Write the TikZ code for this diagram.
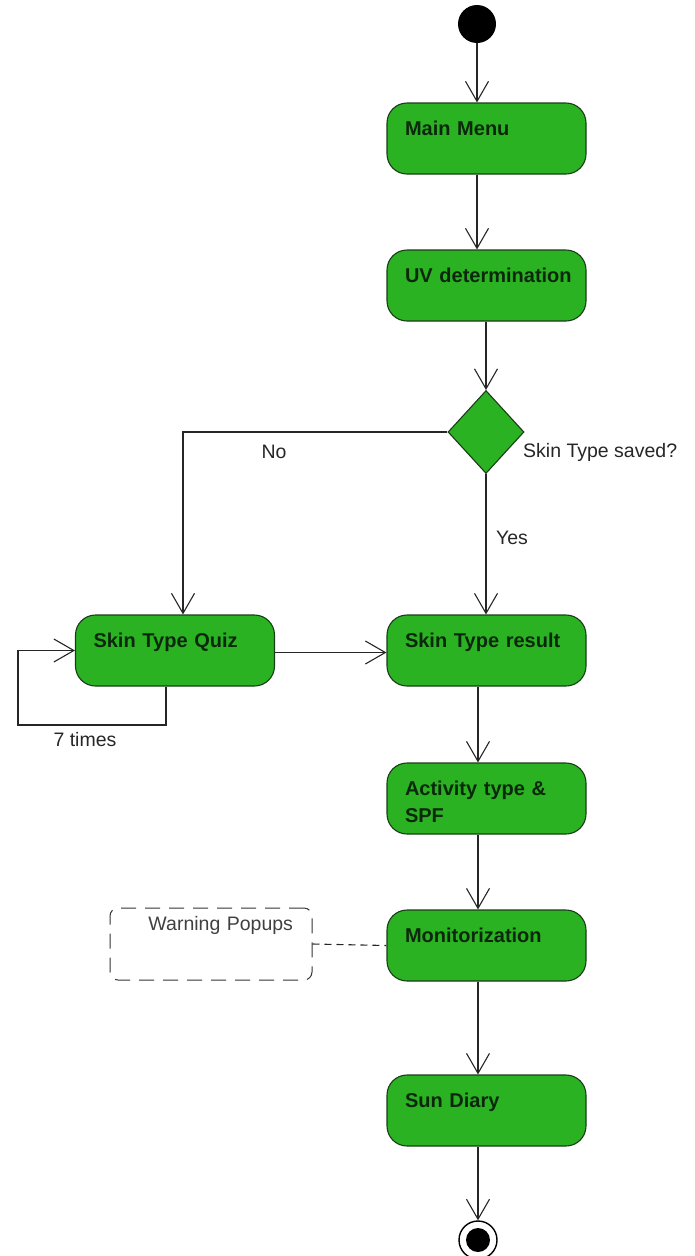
\documentclass[tikz,border=0pt]{standalone}
\usepackage{fontspec}
\setmainfont{Liberation Sans}
\usetikzlibrary{arrows.meta,shapes.geometric}

\definecolor{actgreen}{RGB}{43,178,34}
\definecolor{actline}{RGB}{25,60,25}
\definecolor{acttext}{RGB}{12,40,12}

\tikzset{
    act/.style={draw=actline, fill=actgreen, line width=1.1pt, rounded corners=20pt,
        minimum width=199pt, minimum height=71pt, text width=163pt, align=left,
        inner xsep=18pt, inner ysep=8pt, text height=24pt, text depth=31pt,
        text=acttext, font=\fontsize{20}{27}\selectfont\bfseries},
    decision/.style={diamond, draw=actline, fill=actgreen, line width=1.1pt,
        minimum width=76pt, minimum height=83pt, inner sep=0pt},
    note/.style={draw=black!80, line width=1pt, dash pattern=on 15pt off 9pt, rounded corners=8pt,
        minimum width=202pt, minimum height=72pt, text width=164pt, align=right,
        inner xsep=19pt, inner ysep=0pt, text height=22pt, text depth=50pt,
        text=black!75, font=\fontsize{19.5}{23}\selectfont},
    flow/.style={-{Straight Barb[length=20pt,width=23pt]}, line width=1.1pt, black!85},
    assoc/.style={line width=1.1pt, black!85, dash pattern=on 7pt off 5pt},
    lbl/.style={font=\fontsize{19.5}{23}\selectfont, text=black!85, inner sep=0pt},
}

\begin{document}
\begin{tikzpicture}[x=1pt, y=-1pt]
    \useasboundingbox (0,0) rectangle (695,1256);

    % Start and end
    \node[circle, fill=black, minimum size=38pt, inner sep=0pt] (start) at (477,24) {};
    \node[circle, draw=black, line width=1.4pt, minimum size=38pt, inner sep=0pt] (end) at (478,1240) {};
    \node[circle, fill=black, minimum size=24pt, inner sep=0pt] (endin) at (end) {};

    % Activities
    \node[act] (mm) at (486.5,138.5) {Main Menu};
    \node[act] (uv) at (486.5,285.5) {\mbox{UV determination}};
    \node[decision] (dec) at (486,432) {};
    \node[act] (quiz) at (175,650.5) {Skin Type Quiz};
    \node[act] (result) at (486.5,650.5) {Skin Type result};
    \node[act] (spf) at (486.5,798.5) {Activity type \&\\SPF};
    \node[act] (mon) at (486.5,945.5) {Monitorization};
    \node[act] (diary) at (486.5,1110.5) {Sun Diary};
    \node[note] (warn) at (211,944) {Warning Popups};
    \coordinate (loop) at (18,725);

    % Labels
    \node[lbl] (no) at (274,452) {No};
    \node[lbl] (yes) at (512,538) {Yes};
    \node[lbl, anchor=west] (saved) at (523,452) {Skin Type saved?};
    \node[lbl] (times) at (85,740) {7 times};

    % Flows
    \draw[flow] (start) -- (start |- mm.north);
    \draw[flow] (mm.south -| start) -- (uv.north -| start);
    \draw[flow] (uv.south -| dec) -- (dec.north);
    \draw[flow] (dec.west) -| ([xshift=8pt]quiz.north);
    \draw[flow] (dec.south) -- (result.north -| dec);
    \draw[flow] ([yshift=-2pt]quiz.east) -- ([yshift=-2pt]result.west);
    \draw[flow] ([xshift=-9pt]quiz.south) |- (loop) |- (quiz.west);
    \draw[flow] (result.south -| end) -- (spf.north -| end);
    \draw[flow] (spf.south -| end) -- (mon.north -| end);
    \draw[flow] (mon.south -| end) -- (diary.north -| end);
    \draw[flow] (diary.south -| end) -- (end.north);
    \draw[assoc] (warn.east) -- (mon.west);
\end{tikzpicture}
\end{document}
